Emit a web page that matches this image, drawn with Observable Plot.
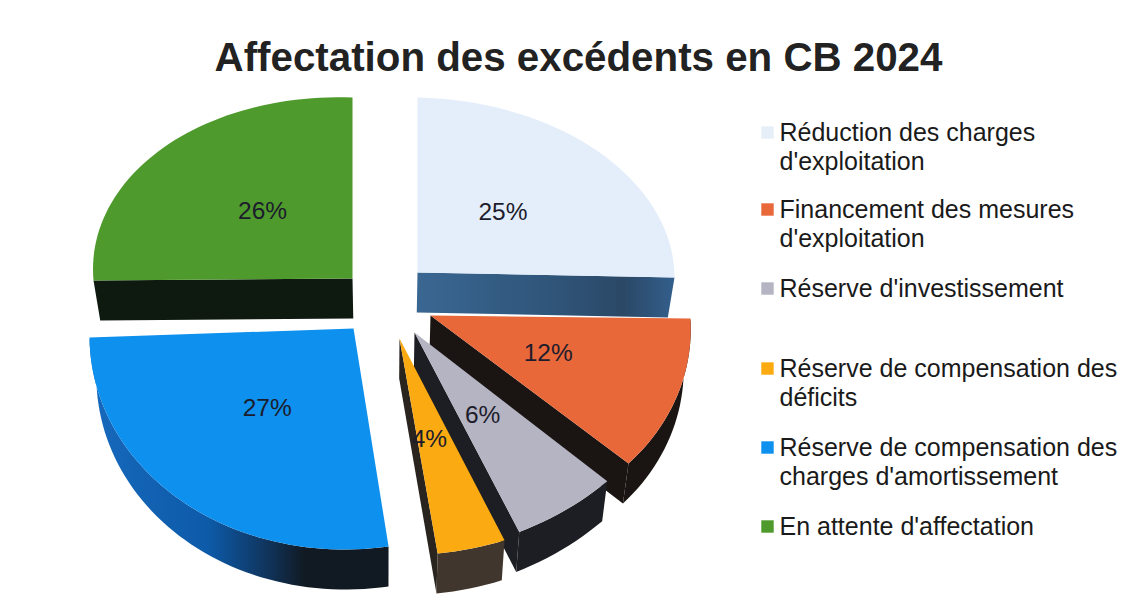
<!DOCTYPE html>
<html lang="fr">
<head>
<meta charset="utf-8">
<script src="https://cdn.jsdelivr.net/npm/d3@7"></script>
<script src="https://cdn.jsdelivr.net/npm/@observablehq/plot@0.6"></script>
<style>
  html, body { margin: 0; padding: 0; background: #fff; width: 1129px; height: 616px; overflow: hidden; }
  #title { box-sizing: border-box; height: 87px; padding: 38px 0 0 28px; text-align: center;
    font: bold 40.3px/40px "Liberation Sans", Arial, sans-serif; color: #222; }
  svg { display: block; }
</style>
</head>
<body>
<div id="title">Affectation des excédents en CB 2024</div>
<div id="chart"></div>
<script>
// Data (clockwise from the top)
const categories = [
  "Réduction des charges\nd'exploitation",
  "Financement des mesures\nd'exploitation",
  "Réserve d'investissement",
  "Réserve de compensation des\ndéficits",
  "Réserve de compensation des\ncharges d'amortissement",
  "En attente d'affectation"
];
const shares = [25, 12, 6, 4, 27, 26];

// Colours
const topColors  = ["#e4eefa", "#e8683a", "#b4b4c2", "#fbaa12", "#0e90ee", "#4f9a2c"];
const wallColors = ["#34608c", "#1a1413", "#1c1e23", "#41362d", "url(#blueRim)", "#0e1a10"];
const cutColors  = ["url(#paleCut)", "#1a1413", "#1c1e23", "#2a241f", "#111a22", "#0e1a10"];
const swatchColors = ["#e6eff8", "#e8683a", "#b4b4c2", "#fbaa12", "#0e90ee", "#4f9a2c"];

// Exploded, tilted camera layout of each slice: apex and projection of the unit disc
const apexX = [417, 430, 414, 399, 353, 352];
const apexY = [272, 315, 332, 338, 328, 278];
const xFromSin = [257, 260, 279, 276, 263.6, 259.5];
const xFromCos = [0, 12.4, -15.5, -13.8, -14.6, 0];
const yFromSin = [5, 3, -5.4, 15, 4.9, 9.4];
const yFromCos = [175, 213, 223, 216, 221, 181];
const depth = 40, lean = 0.023, vanishX = 385, labelRadius = 0.47;
const labelNudgeX = [0, 2, -3, -4, -5, -1];
const labelNudgeY = [-4, -1, -1, 2, -1, -6];
const drawOrder = [5, 0, 1, 2, 3, 4];

// Legend layout
const legendY = [132, 209, 288, 368, 447, 526];
const legendLine = 29, legendTextX = 779, legendSwatchX = 767;

const W = 1129, H = 616, titleH = 87;
const total = d3.sum(shares);
const cum = d3.cumsum(shares);
const project = (i, u, v) => [
  apexX[i] + xFromSin[i] * u + xFromCos[i] * v,
  apexY[i] + yFromSin[i] * u + yFromCos[i] * v
];
const onDisc = (i, theta, r = 1) => project(i, r * Math.sin(theta), -r * Math.cos(theta));
const drop = ([x, y]) => [x - lean * (x - vanishX), y + depth];
const row = ([x, y]) => ({x, y});

function sliceShapes(i) {
  const a0 = (cum[i] - shares[i]) / total * 2 * Math.PI;
  const a1 = cum[i] / total * 2 * Math.PI;
  const n = Math.max(8, Math.round(shares[i] * 2));
  const arc = d3.range(n + 1).map(k => onDisc(i, a0 + (a1 - a0) * k / n));
  const apex = project(i, 0, 0);
  const mid = (a0 + a1) / 2;
  return {
    surface: [apex, ...arc].map(row),
    // only the faces that turn towards the viewer are drawn
    rim: Math.cos(mid) < 0 ? [...arc, ...arc.map(drop).reverse()].map(row) : null,
    cut0: a0 > Math.PI ? [apex, arc[0], drop(arc[0]), drop(apex)].map(row) : null,
    cut1: a1 < Math.PI ? [apex, arc[n], drop(arc[n]), drop(apex)].map(row) : null
  };
}

const face = (rows, fill) => Plot.line(rows, {x: "x", y: "y", fill, stroke: "none", curve: "linear"});

const gradient = (d, id, stops) => {
  const g = d.append("linearGradient").attr("id", id).attr("x1", 0).attr("x2", 1).attr("y1", 0).attr("y2", 0);
  stops.forEach(([o, c]) => g.append("stop").attr("offset", o).attr("stop-color", c));
};
const defs = () => {
  const d = d3.create("svg:defs");
  gradient(d, "blueRim", [[0, "#1769bd"], [0.4, "#0d5aa8"], [0.6, "#10335a"], [0.72, "#111a22"], [1, "#111a22"]]);
  gradient(d, "paleCut", [[0, "#3a6792"], [0.55, "#2f5478"], [0.8, "#2b4866"], [1, "#335f8c"]]);
  return d.node();
};

const sliceMarks = drawOrder.flatMap(i => {
  const s = sliceShapes(i);
  return [
    s.cut0 && face(s.cut0, cutColors[i]),
    s.cut1 && face(s.cut1, cutColors[i]),
    s.rim && face(s.rim, wallColors[i]),
    face(s.surface, topColors[i])
  ].filter(Boolean);
});

const labelRows = shares.map((v, i) => {
  const mid = (cum[i] - v / 2) / total * 2 * Math.PI;
  const [x, y] = onDisc(i, mid, labelRadius);
  return {x: x + labelNudgeX[i], y: y + labelNudgeY[i], text: `${v}%`};
});

const legendTextRows = categories.flatMap((c, i) =>
  c.split("\n").map((text, k) => ({x: legendTextX, y: legendY[i] + k * legendLine, text})));
const legendSwatchRows = categories.map((c, i) => ({x: legendSwatchX, y: legendY[i], fill: swatchColors[i]}));

const chart = Plot.plot({
  width: W,
  height: H - titleH,
  margin: 0,
  style: {background: "#fff", fontFamily: "'Liberation Sans', Arial, sans-serif"},
  x: {domain: [0, W], range: [0, W], axis: null},
  y: {domain: [titleH, H], range: [0, H - titleH], axis: null},
  color: {type: "identity"},
  marks: [
    defs,
    ...sliceMarks,
    Plot.text(labelRows, {x: "x", y: "y", text: "text", fontSize: 24.5, fill: "#1c1c2c"}),
    Plot.dot(legendSwatchRows, {x: "x", y: "y", fill: "fill", symbol: "square", r: 7, stroke: "none"}),
    Plot.text(legendTextRows, {x: "x", y: "y", text: "text", textAnchor: "start", fontSize: 25, fill: "#1a1a1a"})
  ]
});
document.getElementById("chart").append(chart);
</script>
</body>
</html>
